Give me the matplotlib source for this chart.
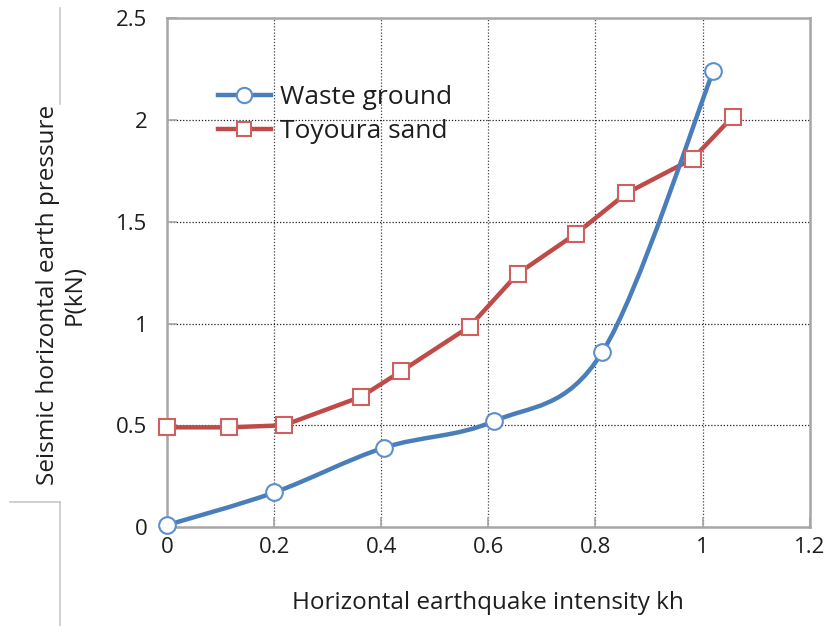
import matplotlib
matplotlib.use("Agg")
import matplotlib.pyplot as plt
from matplotlib.path import Path
from matplotlib.patches import PathPatch
from matplotlib.lines import Line2D
import numpy as np

plt.rcParams["font.family"] = ["Open Sans", "DejaVu Sans"]

# data
waste_kh = [0.0, 0.20, 0.405, 0.61, 0.813, 1.02]
waste_p = [0.01, 0.17, 0.39, 0.52, 0.86, 2.24]

toyoura_kh = [0.0, 0.116, 0.218, 0.362, 0.437, 0.565, 0.655, 0.763, 0.858, 0.982, 1.056]
toyoura_p = [0.49, 0.49, 0.50, 0.64, 0.765, 0.985, 1.245, 1.44, 1.64, 1.81, 2.015]

x_ticks = [0, 0.2, 0.4, 0.6, 0.8, 1, 1.2]
y_ticks = [0, 0.5, 1, 1.5, 2, 2.5]

BLUE = "#4a7ebb"
BLUE_EDGE = "#5b8fd0"
RED = "#be4b48"
RED_EDGE = "#d0605d"
GREY = "#a6a6a6"
TEXT = "#1e1e1e"


def smooth_path(xs, ys):
    """Excel-style smoothed line: cubic Bezier segments, tension 1/6."""
    pts = np.column_stack([xs, ys])
    n = len(pts)
    verts = [pts[0]]
    codes = [Path.MOVETO]
    for i in range(n - 1):
        p0 = pts[max(i - 1, 0)]
        p1 = pts[i]
        p2 = pts[i + 1]
        p3 = pts[min(i + 2, n - 1)]
        c1 = p1 + (p2 - p0) / 6.0
        c2 = p2 - (p3 - p1) / 6.0
        verts += [c1, c2, p2]
        codes += [Path.CURVE4] * 3
    return Path(verts, codes)


fig = plt.figure(figsize=(8.27, 6.26), dpi=100)
ax = fig.add_axes([0.202, 0.158, 0.777, 0.813])

ax.set_xlim(0, 1.2)
ax.set_ylim(0, 2.5)
ax.set_xticks(x_ticks)
ax.set_yticks(y_ticks)
ax.set_xticklabels([f"{v:g}" for v in x_ticks])
ax.set_yticklabels([f"{v:g}" for v in y_ticks])
ax.tick_params(direction="in", length=7, width=1.2, color=GREY,
               labelsize=16, labelcolor=TEXT)
ax.tick_params(axis="x", pad=7)
ax.tick_params(axis="y", pad=14)

for s in ax.spines.values():
    s.set_color(GREY)
    s.set_linewidth(1.8)

for v in x_ticks[1:-1]:
    ax.axvline(v, color="#444444", lw=0.9, ls=(0, (1, 1.5)), zorder=1)
for v in y_ticks[1:-1]:
    ax.axhline(v, color="#222222", lw=0.9, ls=(0, (1, 1.5)), zorder=1)

# red series (straight segments)
ax.plot(toyoura_kh, toyoura_p, color=RED, lw=3.2, zorder=3)
ax.plot(toyoura_kh, toyoura_p, ls="none", marker="s", ms=11, mfc="white",
        mec=RED_EDGE, mew=1.5, zorder=4, clip_on=False)

# blue series (smoothed)
ax.add_patch(PathPatch(smooth_path(waste_kh, waste_p), fc="none", ec=BLUE,
                       lw=3.2, zorder=3, capstyle="round"))
ax.plot(waste_kh, waste_p, ls="none", marker="o", ms=12, mfc="white",
        mec=BLUE_EDGE, mew=1.5, zorder=5, clip_on=False)

handles = [
    Line2D([], [], color=BLUE, lw=3.2, marker="o", ms=11, mfc="white", mec=BLUE_EDGE, mew=1.5),
    Line2D([], [], color=RED, lw=3.2, marker="s", ms=10, mfc="white", mec=RED_EDGE, mew=1.5),
]
leg = ax.legend(handles, ["Waste ground", "Toyoura sand"], loc="center left",
                bbox_to_anchor=(0.079, 0.81), frameon=False, fontsize=19,
                handlelength=2.0, labelspacing=0.33, handletextpad=0.35,
                borderpad=0, borderaxespad=0)
for t in leg.get_texts():
    t.set_color(TEXT)

fig.text(0.59, 0.037, "Horizontal earthquake intensity kh", ha="center",
         va="center", fontsize=17.5, color=TEXT)
fig.text(0.074, 0.529, "Seismic horizontal earth pressure\nP(kN)", ha="center",
         va="center", rotation=90, fontsize=17.5, color=TEXT,
         linespacing=1.15)

# light border lines at the left edge of the cropped figure
fig.add_artist(Line2D([60 / 827, 60 / 827], [1 - 8 / 626, 1 - 104 / 626],
                      color="#c8c8c8", lw=1.2))
fig.add_artist(Line2D([10 / 827, 60 / 827], [1 - 502 / 626, 1 - 502 / 626],
                      color="#c8c8c8", lw=1.2))
fig.add_artist(Line2D([60 / 827, 60 / 827], [1 - 502 / 626, 0],
                      color="#c8c8c8", lw=1.2))

fig.savefig("out.png", dpi=100)
